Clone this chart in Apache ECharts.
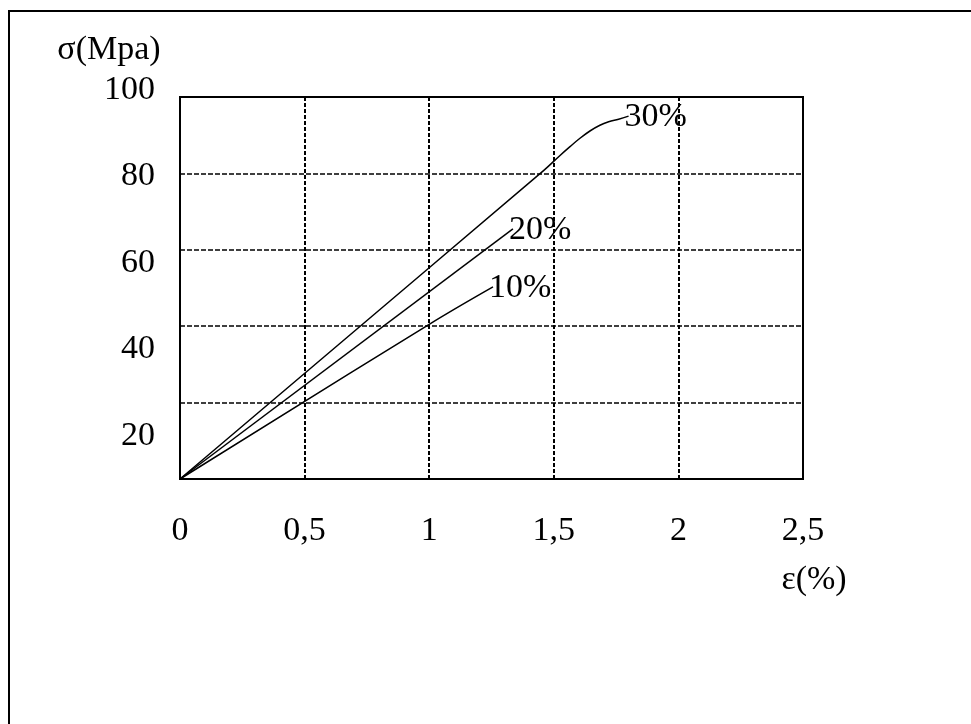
<!DOCTYPE html>
<html>
<head>
<meta charset="utf-8">
<script src="https://cdn.jsdelivr.net/npm/echarts@6/dist/echarts.min.js"></script>
<style>
html,body{margin:0;padding:0;background:#fff;}
#chart{width:971px;height:724px;}
</style>
</head>
<body>
<div id="chart"></div>
<script>
// ---- data ----
const seriesNames = ['30%', '20%', '10%'];
const curve30 = [[0, 0], [1.46, 80.8], [1.525, 84.7], [1.565, 87.0], [1.605, 89.2], [1.645, 91.1], [1.685, 92.6], [1.72, 93.5], [1.76, 94.2], [1.80, 95.0]];
const curve20 = [[0, 0], [1.336, 65.5]];
const curve10 = [[0, 0], [1.0, 40.5], [1.256, 50.3]];
const xTicks = [0, 0.5, 1, 1.5, 2, 2.5];
const yTicks = [20, 40, 60, 80, 100];
const yTitle = 'σ(Mpa)';
const xTitle = 'ε(%)';

const FONT = 'Liberation Serif, Times New Roman, serif';
const FS = 34;

const chart = echarts.init(document.getElementById('chart'), null, {renderer: 'canvas'});

function mkSeries(name, data) {
  return {
    name: name,
    type: 'line',
    xAxisIndex: 0,
    yAxisIndex: 0,
    data: data,
    smooth: 0.4,
    showSymbol: false,
    symbol: 'none',
    lineStyle: {color: '#000', width: 1.5},
    endLabel: {
      show: true,
      formatter: name,
      color: '#000',
      fontFamily: FONT,
      fontSize: FS,
      align: 'left',
      verticalAlign: 'middle',
      offset: [-4, 1],
      distance: 0
    },
    z: 5
  };
}

const option = {
  backgroundColor: '#fff',
  animation: false,
  grid: [
    {left: 180, top: 97, right: 168, bottom: 245, show: true, borderColor: '#000', borderWidth: 2, backgroundColor: 'transparent', z: 3},
    {left: 180, top: 90, right: 168, bottom: 201.5, show: false}
  ],
  xAxis: [
    {
      type: 'value', gridIndex: 0, min: xTicks[0], max: xTicks[xTicks.length - 1], interval: 0.5,
      axisLine: {show: true, lineStyle: {color: '#000', width: 2}},
      axisTick: {show: false},
      splitLine: {show: true, lineStyle: {color: '#000', width: 2, type: [4, 2]}},
      axisLabel: {
        color: '#000', fontFamily: FONT, fontSize: FS, margin: 35,
        formatter: v => String(v).replace('.', ',')
      }
    },
    {type: 'value', gridIndex: 1, min: 0, max: 1, show: false}
  ],
  yAxis: [
    {
      type: 'value', gridIndex: 0, min: 0, max: 100, interval: 20,
      axisLine: {show: true, lineStyle: {color: '#000', width: 2}},
      axisTick: {show: false},
      splitLine: {show: true, lineStyle: {color: '#000', width: 1.5, type: [5, 2]}},
      axisLabel: {show: false}
    },
    {
      type: 'value', gridIndex: 1, min: 0, max: 100, interval: 20,
      axisLine: {show: false},
      axisTick: {show: false},
      splitLine: {show: false},
      axisLabel: {
        color: '#000', fontFamily: FONT, fontSize: FS, margin: 25,
        formatter: v => (yTicks.indexOf(v) >= 0 ? String(v) : '')
      }
    }
  ],
  series: [
    mkSeries(seriesNames[0], curve30),
    mkSeries(seriesNames[1], curve20),
    mkSeries(seriesNames[2], curve10)
  ],
  graphic: [
    {
      type: 'polyline', silent: true,
      shape: {points: [[9, 730], [9, 11], [980, 11]]},
      style: {stroke: '#000', lineWidth: 2, fill: null}
    },
    {
      type: 'text', x: 109, y: 50,
      style: {text: yTitle, font: FS + 'px ' + FONT, fill: '#000', textAlign: 'center', textVerticalAlign: 'middle'}
    },
    {
      type: 'text', x: 814, y: 580,
      style: {text: xTitle, font: FS + 'px ' + FONT, fill: '#000', textAlign: 'center', textVerticalAlign: 'middle'}
    }
  ]
};

chart.setOption(option);
</script>
</body>
</html>
